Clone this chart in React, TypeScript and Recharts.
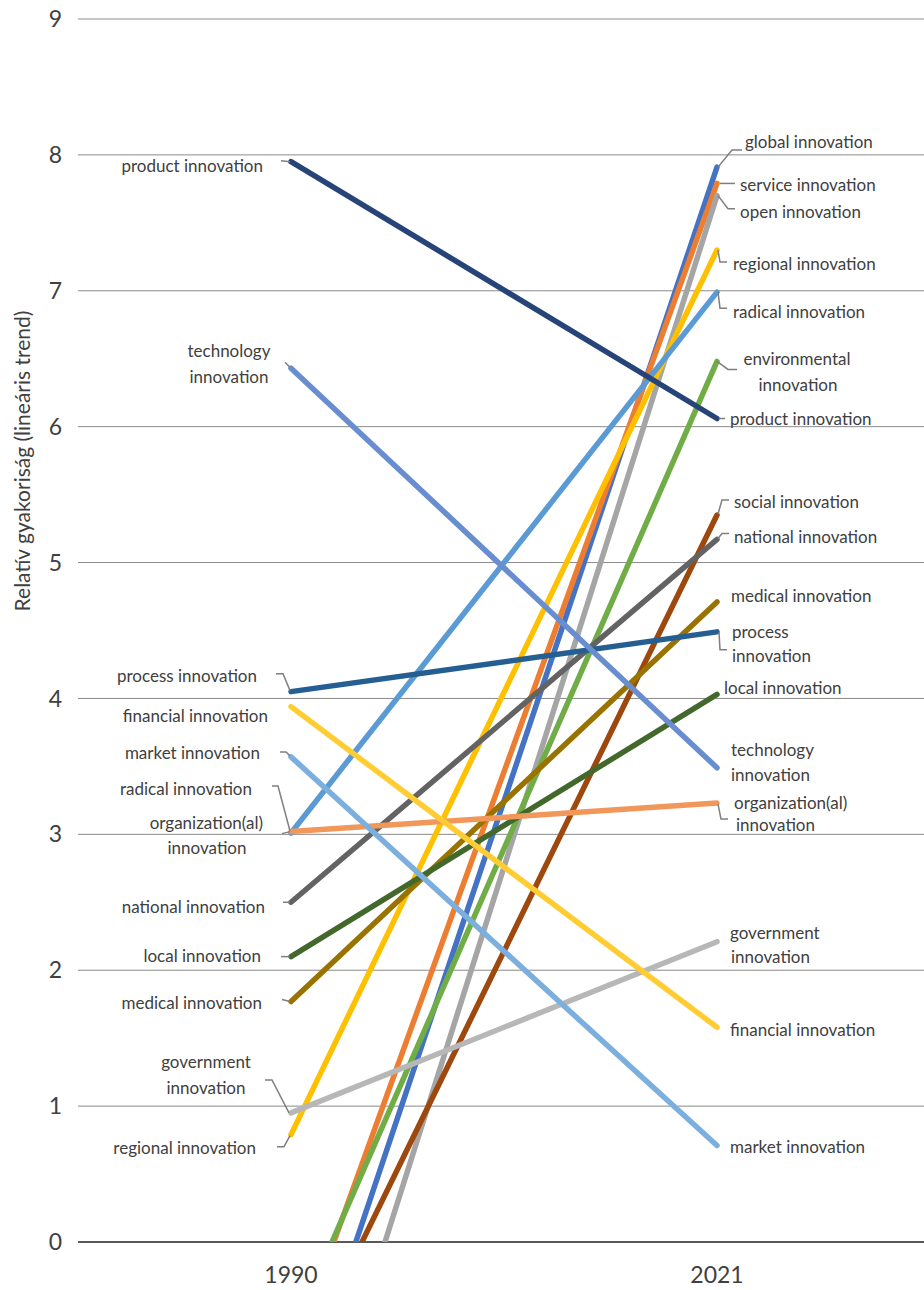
import React from "react";
import { LineChart, Line, XAxis, YAxis, CartesianGrid, ReferenceLine } from "recharts";

const years = ["1990", "2021"];

const seriesNames = [
  "global innovation",
  "service innovation",
  "open innovation",
  "regional innovation",
  "radical innovation",
  "environmental innovation",
  "product innovation",
  "social innovation",
  "national innovation",
  "medical innovation",
  "process innovation",
  "local innovation",
  "technology innovation",
  "organization(al) innovation",
  "government innovation",
  "financial innovation",
  "market innovation",
];

// linear trend values at both ends (some start below zero and are clipped by the axis)
const values1990 = [-1.42, -0.87, -2.18, 0.79, 3.01, -0.69, 7.95, -1.07, 2.5, 1.77, 4.05, 2.1, 6.43, 3.02, 0.95, 3.94, 3.57];
const values2021 = [7.91, 7.79, 7.7, 7.3, 6.99, 6.48, 6.06, 5.35, 5.17, 4.71, 4.49, 4.03, 3.49, 3.23, 2.21, 1.58, 0.71];

const colors = [
  "#4472C4", "#ED7D31", "#A5A5A5", "#FFC000", "#5B9BD5", "#70AD47",
  "#264478", "#9E480E", "#636363", "#997300", "#255E91", "#43682B",
  "#698ED0", "#F1975A", "#B7B7B7", "#FFCD33", "#7CAFDD",
];

const yTicks = [0, 1, 2, 3, 4, 5, 6, 7, 8, 9];
const yTitle = "Relatív gyakoriság (lineáris trend)";

const data = years.map((year, i) => {
  const row: Record<string, string | number> = { year };
  seriesNames.forEach((_, s) => {
    row[`s${s}`] = i === 0 ? values1990[s] : values2021[s];
  });
  return row;
});

// label placement, relative to the data point: [text, dx, dy, anchor]
type LabelLine = [string, number, number, "start" | "middle" | "end"];
type LabelSpec = { lines: LabelLine[]; leader?: [number, number][] } | null;

const leftLabels: LabelSpec[] = [
  null,
  null,
  null,
  { lines: [["regional innovation", -35, 13, "end"]], leader: [[-14, 12], [-7, 12], [-1, 1]] },
  { lines: [["radical innovation", -39, -44, "end"]], leader: [[-19, -47], [-13, -47], [-1, -2]] },
  null,
  { lines: [["product innovation", -28, 4, "end"]], leader: [[-10, -1], [-1, 0]] },
  null,
  { lines: [["national innovation", -26, 4, "end"]], leader: [[-8, 0], [-1, 0]] },
  { lines: [["medical innovation", -29, 1, "end"]], leader: [[-9, -2], [-1, 0]] },
  { lines: [["process innovation", -34, -16, "end"]], leader: [[-15, -18], [-8, -18], [-1, -1]] },
  { lines: [["local innovation", -30, -1, "end"]], leader: [[-10, 0], [-1, 0]] },
  {
    lines: [["technology", -62, -18, "middle"], ["innovation", -62, 8, "middle"]],
    leader: [[-6, -6], [-1, -1]],
  },
  {
    lines: [["organization(al)", -28, -9, "end"], ["innovation", -84, 16, "middle"]],
    leader: [[-9, 2], [-1, 0]],
  },
  {
    lines: [["government", -85, -51, "middle"], ["innovation", -85, -25, "middle"]],
    leader: [[-26, -33], [-19, -33], [-2, 0]],
  },
  { lines: [["financial innovation", -23, 9, "end"]] },
  { lines: [["market innovation", -31, -4, "end"]], leader: [[-11, -5], [-5, -5], [-1, -1]] },
];

const rightLabels: LabelSpec[] = [
  { lines: [["global innovation", 28, -26, "start"]], leader: [[1, 0], [15, -17], [25, -17]] },
  { lines: [["service innovation", 23, 1, "start"]], leader: [[3, 0], [18, 0]] },
  { lines: [["open innovation", 23, 16, "start"]], leader: [[1, 0], [11, 13], [18, 13]] },
  { lines: [["regional innovation", 16, 13, "start"]], leader: [[1, 0], [3, 12], [10, 12]] },
  { lines: [["radical innovation", 16, 19, "start"]], leader: [[1, 0], [3, 16], [10, 16]] },
  {
    lines: [["environmental", 80, -3, "middle"], ["innovation", 81, 23, "middle"]],
    leader: [[0, 0], [11, 8], [20, 8]],
  },
  { lines: [["product innovation", 13, 0, "start"]], leader: [[2, 0], [8, 0]] },
  { lines: [["social innovation", 17, -13, "start"]], leader: [[1, -1], [5, -15], [12, -15]] },
  { lines: [["national innovation", 17, -3, "start"]], leader: [[1, -1], [5, -6], [12, -6]] },
  { lines: [["medical innovation", 14, -6, "start"]] },
  {
    lines: [["process", 15, 0, "start"], ["innovation", 15, 24, "start"]],
    leader: [[2, 0], [3, 18], [10, 18]],
  },
  { lines: [["local innovation", 7, -7, "start"]] },
  { lines: [["technology", 14, -18, "start"], ["innovation", 14, 7, "start"]] },
  {
    lines: [["organization(al)", 17, -1, "start"], ["innovation", 19, 21, "start"]],
    leader: [[1, 1], [4, 16], [11, 16]],
  },
  { lines: [["government", 13, -9, "start"], ["innovation", 14, 15, "start"]] },
  { lines: [["financial innovation", 13, 2, "start"]] },
  { lines: [["market innovation", 13, 1, "start"]] },
];

const FONT = "Lato, 'Open Sans', sans-serif";
const TEXT = "#404040";

function renderLabel(s: number) {
  return (props: any) => {
    const { index } = props;
    const x = props.x ?? props.viewBox?.x;
    const y = props.y ?? props.viewBox?.y;
    const spec = index === 0 ? leftLabels[s] : rightLabels[s];
    if (!spec || x == null || y == null) return null;
    return (
      <g key={`lbl-${s}-${index}`}>
        {spec.leader && (
          <polyline
            points={spec.leader.map(([dx, dy]) => `${x + dx},${y + dy}`).join(" ")}
            fill="none"
            stroke="#7f7f7f"
            strokeWidth={1.5}
          />
        )}
        {spec.lines.map(([t, dx, dy, anchor], k) => (
          <text
            key={k}
            x={x + dx}
            y={y + dy}
            textAnchor={anchor}
            dominantBaseline="central"
            fontSize={17}
            fontFamily={FONT}
            fill={TEXT}
          >
            {t}
          </text>
        ))}
      </g>
    );
  };
}

export default function App() {
  return (
    <div style={{ position: "absolute", left: 0, top: 0, width: 924, height: 1290, overflow: "hidden", background: "#fff" }}>
      <LineChart width={940} height={1290} data={data} margin={{ top: 19, right: 10, left: 0, bottom: 0 }}>
        <CartesianGrid vertical={false} stroke="#8a8a8a" strokeWidth={1} />
        <XAxis
          dataKey="year"
          axisLine={false}
          tickLine={false}
          tickSize={0}
          tickMargin={25}
          height={48}
          padding={{ left: 213, right: 213 }}
          tick={{ fontSize: 23, fill: TEXT, fontFamily: FONT }}
        />
        <YAxis
          domain={[0, 9]}
          ticks={yTicks}
          allowDataOverflow
          axisLine={false}
          tickLine={false}
          tickSize={0}
          tickMargin={16}
          width={78}
          tick={{ fontSize: 23, fill: TEXT, fontFamily: FONT }}
          label={{
            content: () => (
              <text
                x={21}
                y={461}
                transform="rotate(-90 21 461)"
                textAnchor="middle"
                dominantBaseline="central"
                fontSize={21}
                fontFamily={FONT}
                fill={TEXT}
              >
                {yTitle}
              </text>
            ),
          }}
        />
        <ReferenceLine y={0} stroke="#333" strokeWidth={1.5} />
        {seriesNames.map((name, s) => (
          <Line
            key={name}
            name={name}
            dataKey={`s${s}`}
            stroke={colors[s]}
            strokeWidth={5.5}
            strokeLinecap="round"
            dot={false}
            activeDot={false}
            label={renderLabel(s)}
            isAnimationActive={false}
          />
        ))}
      </LineChart>
    </div>
  );
}
